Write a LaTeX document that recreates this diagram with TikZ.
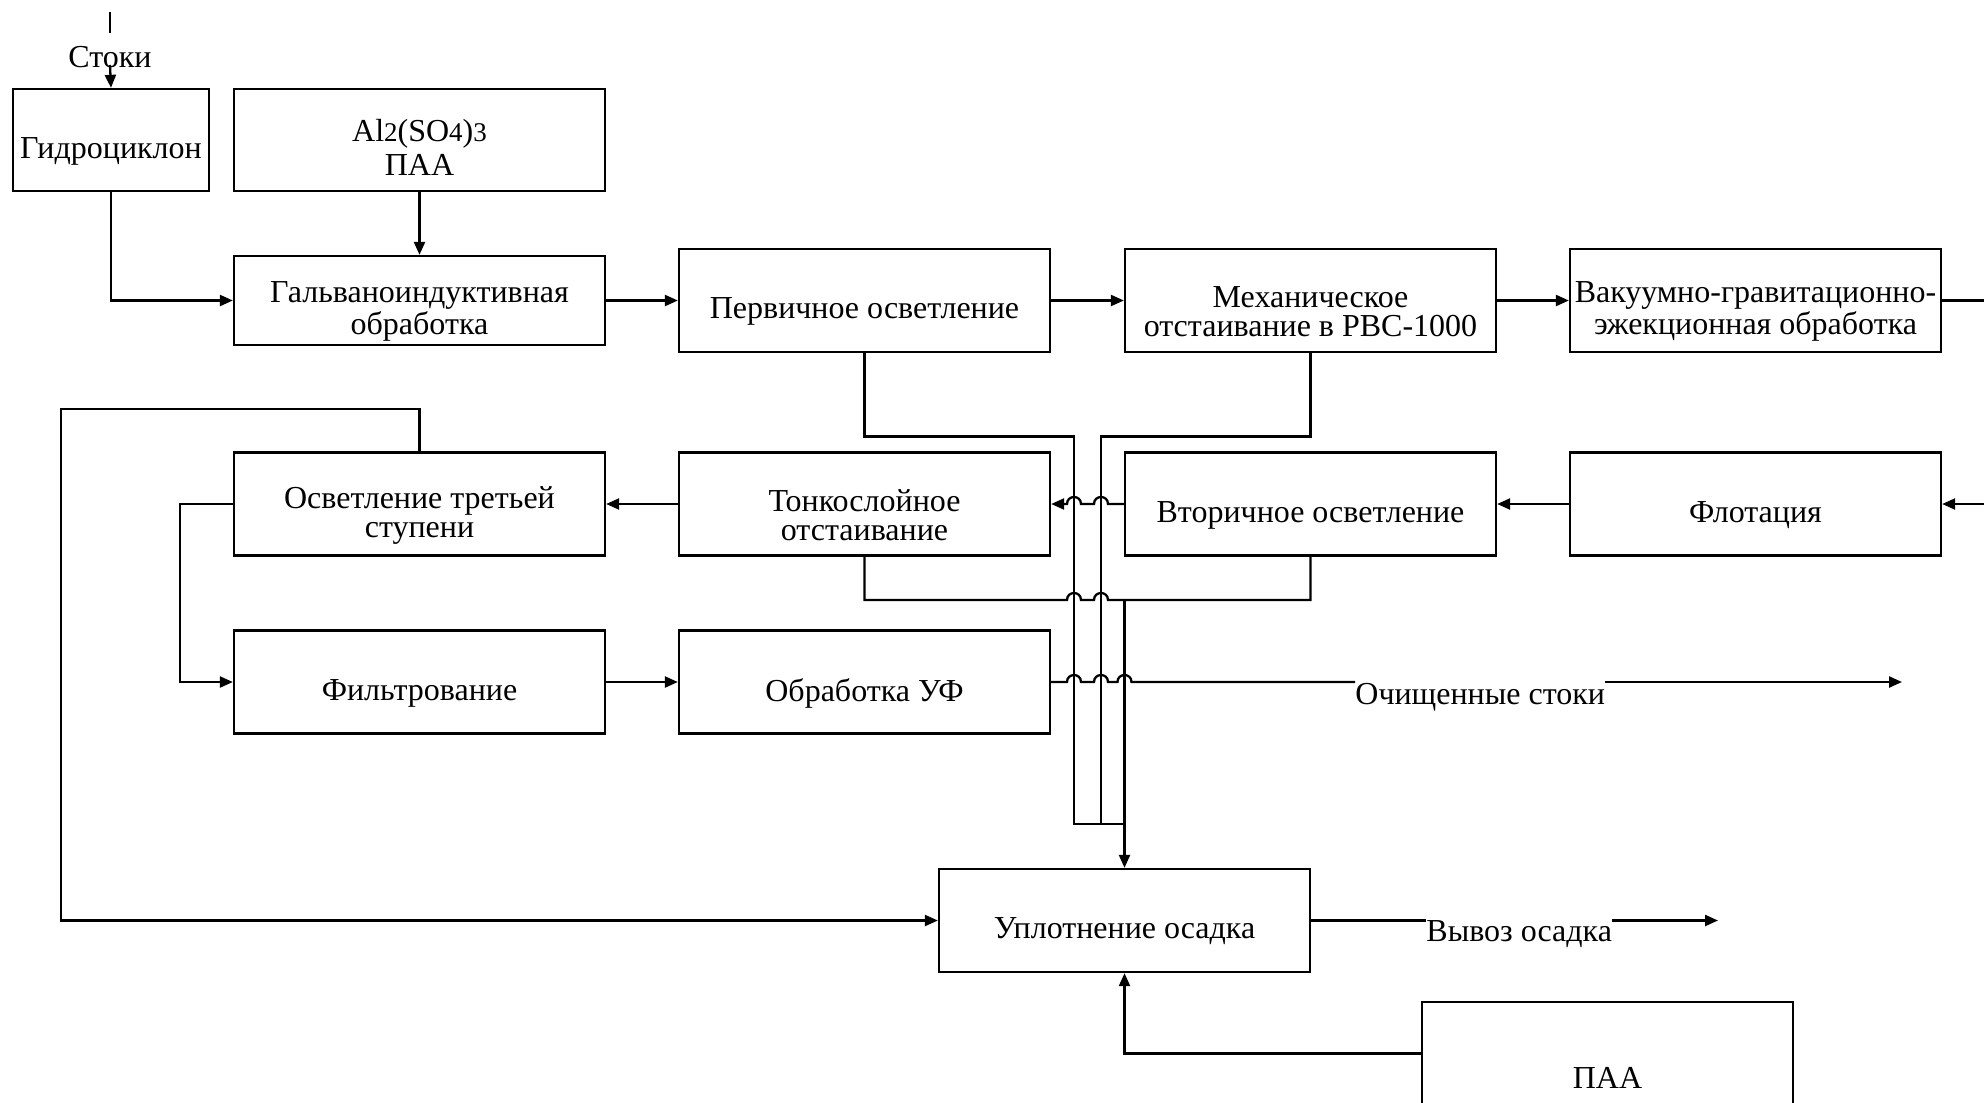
\documentclass[tikz,border=0pt]{standalone}
\usepackage{fontspec}
\setmainfont{Liberation Serif}
\usetikzlibrary{arrows.meta}
% hop over a vertical line at x=#1 on a horizontal line at y=#2
\newcommand\hopL[2]{-- (#1+7,#2) .. controls (#1+7,#2-9.3) and (#1-7,#2-9.3) .. (#1-7,#2)}
\newcommand\hopR[2]{-- (#1-7,#2) .. controls (#1-7,#2-9.3) and (#1+7,#2-9.3) .. (#1+7,#2)}
\newcommand\smd[1]{{\fontsize{13.5}{13.5}\selectfont #1}}
\begin{document}
\begin{tikzpicture}[x=0.5pt,y=-0.5pt,
  ln/.style={line width=1.15pt},
  arr/.style={line width=1.15pt,-{Triangle[length=6.5pt,width=5.5pt]}},
  box/.style={draw,line width=1.15pt,minimum width=185.5pt,minimum height=51.5pt,inner sep=0pt},
  txt/.style={font=\fontsize{16}{14.5}\selectfont,align=center,inner sep=0pt}]
\useasboundingbox (0,0) rectangle (1984,1102);
% boxes
\node[box,minimum width=98pt,minimum height=51pt] (gidro) at (111,140) {};
\node[box,minimum height=51pt] (al) at (419.5,140) {};
\node[box,minimum height=44.5pt] (galv) at (419.5,300.5) {};
\node[box] (perv) at (864.5,300.5) {};
\node[box] (mech) at (1310.5,300.5) {};
\node[box] (vak) at (1755.5,300.5) {};
\node[box] (osv3) at (419.5,504) {};
\node[box] (tonk) at (864.5,504) {};
\node[box] (vtor) at (1310.5,504) {};
\node[box] (flot) at (1755.5,504) {};
\node[box] (filt) at (419.5,682) {};
\node[box] (uf) at (864.5,682) {};
\node[box] (upl) at (1124.5,920.5) {};
\node[box] (paa) at (1607.5,1053.5) {};
% box texts
\node[txt] at ([yshift=-5.5pt]gidro.center) {Гидроциклон};
\node[txt] at ([yshift=-3.5pt]al.center) {Al\smd{2}(SO\smd{4})\smd{3}\\[2.5pt]ПАА};
\node[txt] at ([yshift=-5.5pt]galv.center) {Гальваноиндуктивная\\обработка};
\node[txt] at ([yshift=-5.5pt]perv.center) {Первичное осветление};
\node[txt] at ([yshift=-5.5pt]mech.center) {Механическое\\отстаивание в РВС-1000};
\node[txt] at ([yshift=-5.5pt]vak.center) {Вакуумно-гравитационно-\\ эжекционная обработка};
\node[txt] at ([yshift=-5.5pt]osv3.center) {Осветление третьей\\ступени};
\node[txt] at ([yshift=-5.5pt]tonk.center) {Тонкослойное\\отстаивание};
\node[txt] at ([yshift=-5.5pt]vtor.center) {Вторичное осветление};
\node[txt] at ([yshift=-5.5pt]flot.center) {Флотация};
\node[txt] at ([yshift=-5.5pt]filt.center) {Фильтрование};
\node[txt] at ([yshift=-5.5pt]uf.center) {Обработка УФ};
\node[txt] at ([yshift=-5.5pt]upl.center) {Уплотнение осадка};
\node[txt,anchor=base] (paatxt) at (1607.5,1088) {ПАА};
% free labels
\node[txt,anchor=base] (stoki) at (110,68) {Стоки};
\node[txt,anchor=base west] (och) at (1355,704) {Очищенные стоки};
\node[txt,anchor=base west] (vyv) at (1426,941) {Вывоз осадка};
% coordinates
\coordinate (s1) at (110,12);
\coordinate (s2) at (110,33);
\coordinate (s3) at (110,65);
\coordinate (vakend) at (1984,300.5);
\coordinate (flotin) at (1984,504);
\coordinate (ochend) at (1902,682);
\coordinate (vyvend) at (1718,920.5);
\coordinate (j1) at (1074,436.5);
\coordinate (j2) at (1101,436.5);
\coordinate (b1) at (1074,824);
\coordinate (b2) at (1101,824);
\coordinate (bc) at (1124.5,824);
\coordinate (jc) at (1124.5,600);
% connectors
\draw[ln] (s1) -- (s2);
\draw[arr] (s3) -- (gidro.north);
\draw[arr] (gidro.south) |- (galv.west);
\draw[arr] (al.south) -- (galv.north);
\draw[arr] (galv.east) -- (perv.west);
\draw[arr] (perv.east) -- (mech.west);
\draw[arr] (mech.east) -- (vak.west);
\draw[ln] (vak.east) -- (vakend);
\draw[arr] (flotin) -- (flot.east);
\draw[arr] (flot.west) -- (vtor.east);
\draw[arr] (vtor.west) \hopL{1101}{504} \hopL{1074}{504} -- (tonk.east);
\draw[arr] (tonk.west) -- (osv3.east);
\draw[arr] (osv3.west) -- (180,504) |- (filt.west);
\draw[arr] (filt.east) -- (uf.west);
\draw[ln] (uf.east) \hopR{1074}{682} \hopR{1101}{682} \hopR{1124.5}{682} -- (och.west |- uf.east);
\draw[arr] (och.east |- uf.east) -- (ochend);
\draw[arr] (osv3.north) -- (419.5,409) -- (61,409) |- (upl.west);
\draw[ln] (perv.south) |- (j1) -- (b1) -- (bc);
\draw[ln] (mech.south) |- (j2) -- (b2);
\draw[ln] (tonk.south) -- (tonk.south |- jc) \hopR{1074}{600} \hopR{1101}{600} -- (vtor.south |- jc) -- (vtor.south);
\draw[arr] (jc) -- (upl.north);
\draw[ln] (upl.east) -- (vyv.west |- upl.east);
\draw[arr] (vyv.east |- upl.east) -- (vyvend);
\draw[arr] (paa.west) -| (upl.south);
\end{tikzpicture}
\end{document}
